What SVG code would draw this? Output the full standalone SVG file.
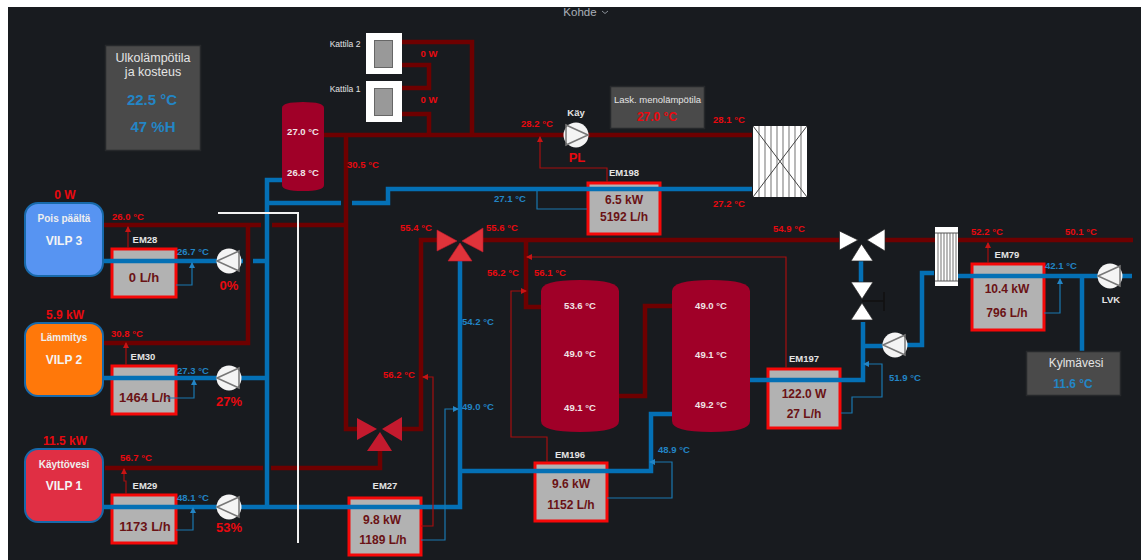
<svg xmlns="http://www.w3.org/2000/svg" width="1141" height="560" viewBox="0 0 1141 560">
<style>
text{font-family:"Liberation Sans",Arial,sans-serif}
.t{font-size:9.5px;font-weight:700}
.r{fill:#e8090f}
.b{fill:#2385c5}
.w{fill:#e4e4e4}
.m{text-anchor:middle}
.em{fill:#b2b2b2;stroke:#f50808;stroke-width:3}
.emt{font-size:12px;font-weight:700;fill:#6a1215;text-anchor:middle}
.big{font-size:13px;font-weight:700;fill:#e8090f;text-anchor:middle}
.pr{fill:none;stroke:#6e0000;stroke-width:4.5}
.pb{fill:none;stroke:#0470b5;stroke-width:4.5}
.sr{fill:none;stroke:#a50f0f;stroke-width:1.2}
.sb{fill:none;stroke:#1a78b0;stroke-width:1.2}
.panel{fill:#4a4a4a;stroke:#26282b;stroke-width:1.5}
.pump{fill:#f4f4f4}
.pt{fill:none;stroke:#777;stroke-width:1.5}
.tank{fill:#a00028}
.vilp{stroke:#1769aa;stroke-width:2}
.vt{font-size:10px;font-weight:700;fill:#eee;text-anchor:middle}
.vn{font-size:12px;font-weight:700;fill:#f4f4f4;text-anchor:middle}
.tt{font-size:9.5px;font-weight:700;fill:#f0e4e6;text-anchor:middle}
.vw{fill:#fff;stroke:#222;stroke-width:.7}
.st{stroke:#8a8a8a;stroke-width:1.2}
</style>
<defs>
<marker id="ar" viewBox="0 0 6 6" refX="5" refY="3" markerWidth="6" markerHeight="6" orient="auto" markerUnits="userSpaceOnUse"><path d="M0,0L6,3L0,6Z" fill="#c81414"/></marker>
<marker id="ab" viewBox="0 0 6 6" refX="5" refY="3" markerWidth="6" markerHeight="6" orient="auto" markerUnits="userSpaceOnUse"><path d="M0,0L6,3L0,6Z" fill="#2385c5"/></marker>
<g id="pumpL"><circle r="12.5" class="pump"/><path d="M-12,0L10,-10V10Z" class="pt"/></g>
<g id="pumpR"><circle r="12.5" class="pump"/><path d="M12,0L-10,-10V10Z" class="pt"/></g>
</defs>
<rect width="1141" height="560" fill="#fff"/>
<rect x="8" y="7" width="1133" height="553" fill="#181b1f"/>
<text x="580" y="16" font-size="11.500" fill="#aab0b8" class="m">Kohde</text>
<path d="M602,11l3,2.500l3,-2.500" fill="none" stroke="#8a9098" stroke-width="1"/>

<g id="em28"><rect x="112" y="249" width="64" height="48" class="em"/><text x="144" y="282" class="emt" style="font-size:13px">0 L/h</text></g>
<g id="em30"><rect x="112" y="366" width="64" height="48" class="em"/><text x="145" y="402" class="emt" style="font-size:13px">1464 L/h</text></g>
<g id="em29"><rect x="112" y="495" width="64" height="48" class="em"/><text x="145" y="531" class="emt" style="font-size:13px">1173 L/h</text></g>
<g id="em27"><rect x="349" y="498" width="72" height="57" class="em"/><text x="382" y="524" class="emt">9.8 kW</text><text x="383" y="544" class="emt">1189 L/h</text></g>
<g id="em196"><rect x="535" y="463" width="72" height="58" class="em"/><text x="571" y="488" class="emt">9.6 kW</text><text x="571" y="509" class="emt">1152 L/h</text></g>
<g id="em197"><rect x="768" y="369" width="72" height="59" class="em"/><text x="804" y="398" class="emt">122.0 W</text><text x="804" y="418" class="emt">27 L/h</text></g>
<g id="em79"><rect x="972" y="264" width="72" height="66" class="em"/><text x="1007" y="293" class="emt">10.4 kW</text><text x="1007" y="317" class="emt">796 L/h</text></g>
<g id="em198"><rect x="588" y="183" width="72" height="51" class="em"/><text x="624" y="204" class="emt">6.5 kW</text><text x="624" y="221" class="emt">5192 L/h</text></g>

<g id="connectors">
<path class="pr" d="M402,42H472V135M402,65H429V88H402M402,114H429V135M324,135H752"/>
<path class="pr" d="M346,135V429H358M104,225H261M272,225H346M248,225V343H104M105,468H263M271,468H380V450M402,429H421V240H438M482,240H839M526,240V307H541M619,396H645V306H672M885,240H935M958,240H1133"/>
<path class="pb" d="M282,180H267V507M267,203H341M352,203H388V189H752M103,261H243M253,261H267M103,378H267M103,507H460V261M460,471H651V414H672M750,380H863V322M861,261V282M863,346H884M907,345H922V273H934M957,276H1098M1122,276H1132M1082,276V352"/>
<path d="M218,213H298V543" fill="none" stroke="#f2f2f2" stroke-width="2"/>
<path class="sr" marker-end="url(#ar)" d="M128,248V227"/>
<path class="sr" marker-end="url(#ar)" d="M126,365V343"/>
<path class="sr" marker-end="url(#ar)" d="M126,494V481H124V469"/>
<path class="sb" marker-end="url(#ab)" d="M176,285H192V263"/>
<path class="sb" marker-end="url(#ab)" d="M167,398H194V380"/>
<path class="sb" marker-end="url(#ab)" d="M176,530H193V508"/>
<path class="sr" marker-end="url(#ar)" d="M421,526H433V377H423"/>
<path class="sb" marker-end="url(#ab)" d="M421,540H445V409H458"/>
<path class="sr" marker-end="url(#ar)" d="M547,462V437H511V291H526"/>
<path class="sb" marker-end="url(#ab)" d="M607,498H672V462H650"/>
<path class="sr" marker-end="url(#ar)" d="M786,368V257H527"/>
<path class="sb" marker-end="url(#ab)" d="M841,413H852V397H882V364H864"/>
<path class="sr" marker-end="url(#ar)" d="M988,263V243"/>
<path class="sb" marker-end="url(#ab)" d="M1044,313H1060V279"/>
<path class="sr" marker-end="url(#ar)" d="M607,182V168H540V137"/>
<path class="sb" d="M587,209H537V191"/>
</g>

<g id="ulko"><rect x="105.500" y="45.500" width="95" height="105" class="panel"/>
<text x="153" y="62" font-size="12.500" fill="#e4e4e4" class="m">Ulkolämpötila</text><text x="153" y="76" font-size="12.500" fill="#e4e4e4" class="m">ja kosteus</text>
<text x="152" y="105" font-size="15" font-weight="700" class="b m">22.5 °C</text><text x="153" y="132" font-size="15" font-weight="700" class="b m">47 %H</text></g>

<g id="kattila2"><rect x="366" y="33" width="36" height="41" fill="#fff"/><rect x="374.500" y="40.500" width="18" height="27" fill="#999" stroke="#666" stroke-width="1"/><text x="345" y="47" font-size="8.500" class="w m">Kattila 2</text></g>
<g id="kattila1"><rect x="366" y="81" width="36" height="41" fill="#fff"/><rect x="374.500" y="88.500" width="18" height="27" fill="#999" stroke="#666" stroke-width="1"/><text x="345" y="92" font-size="8.500" class="w m">Kattila 1</text></g>

<g id="tank-small"><path class="tank" d="M282,108Q282,102 303,102Q324,102 324,108V185Q324,191 303,191Q282,191 282,185Z"/><text x="303" y="135" class="tt">27.0 °C</text><text x="303" y="176" class="tt">26.8 °C</text></g>
<g id="tank-a"><path class="tank" d="M541,291Q541,280 580,280Q619,280 619,291V421Q619,432 580,432Q541,432 541,421Z"/><text x="580" y="309" class="tt">53.6 °C</text><text x="580" y="357" class="tt">49.0 °C</text><text x="580" y="411" class="tt">49.1 °C</text></g>
<g id="tank-b"><path class="tank" d="M672,291Q672,280 711,280Q750,280 750,291V421Q750,432 711,432Q672,432 672,421Z"/><text x="711" y="309" class="tt">49.0 °C</text><text x="711" y="358" class="tt">49.1 °C</text><text x="711" y="408" class="tt">49.2 °C</text></g>

<g id="vilp3"><rect x="25" y="203" width="78" height="73" rx="13" fill="#5794f2" class="vilp"/><text x="64" y="222" class="vt">Pois päältä</text><text x="64" y="245" class="vn">VILP 3</text><text x="65" y="199" class="m r" font-size="12" font-weight="700">0 W</text></g>
<g id="vilp2"><rect x="25" y="323" width="78" height="73" rx="13" fill="#ff780a" class="vilp"/><text x="64" y="341" class="vt">Lämmitys</text><text x="64" y="364" class="vn">VILP 2</text><text x="65" y="319" class="m r" font-size="12" font-weight="700">5.9 kW</text></g>
<g id="vilp1"><rect x="25" y="449" width="78" height="73" rx="13" fill="#e02f44" class="vilp"/><text x="64" y="468" class="vt">Käyttövesi</text><text x="64" y="490" class="vn">VILP 1</text><text x="65" y="445" class="m r" font-size="12" font-weight="700">11.5 kW</text></g>

<g id="pump-vilp3"><use href="#pumpL" x="229" y="261"/><text x="229" y="290" class="big">0%</text></g>
<g id="pump-vilp2"><use href="#pumpL" x="229" y="378"/><text x="229" y="406" class="big">27%</text></g>
<g id="pump-vilp1"><use href="#pumpL" x="229" y="507"/><text x="229" y="532" class="big">53%</text></g>
<g id="pump-pl"><use href="#pumpR" x="576" y="135"/><text x="576" y="116" class="t w m">Käy</text><text x="577" y="162" class="big">PL</text></g>
<g id="pump-mid"><use href="#pumpL" x="895" y="345"/></g>
<g id="pump-lvk"><use href="#pumpL" x="1110" y="276"/><text x="1111" y="303" class="t w m">LVK</text></g>

<g id="valve-red"><g fill="#e0333a" stroke="#c41a2e" stroke-width=".6"><path d="M437,230V251L457,241Z"/><path d="M483,228V252L462,241Z"/><path d="M460,243L448,261H472Z"/></g></g>
<g id="valve-mix"><g fill="#c41a2e"><path d="M357,418V440L377,429Z"/><path d="M402,417V441L382,429Z"/><path d="M380,432L367,451H392Z"/></g></g>
<g id="valve-white"><path class="vw" d="M839.500,231V250L858,240Z"/><path class="vw" d="M885,229V251L867,240Z"/><path class="vw" d="M861.500,244L851,261H873Z"/></g>
<g id="valve-hand"><path d="M862,301H884M884,292V311" fill="none" stroke="#111" stroke-width="1.500"/><path class="vw" d="M851,282H873L862,299Z"/><path class="vw" d="M862,303L851,320H873Z"/></g>

<g id="radiator"><rect x="753" y="126" width="54" height="71" fill="#fff"/>
<path class="st" d="M759,126V197M765,126V197M771,126V197M777,126V197M783,126V197M789,126V197M795,126V197M801,126V197"/>
<path d="M753,126L807,197M807,126L753,197" stroke="#444" stroke-width="1"/></g>
<g id="exchanger"><rect x="935" y="227" width="23" height="59" fill="#fff"/>
<path class="st" d="M938,233V281M941,233V281M944,233V281M947,233V281M950,233V281M953,233V281M956,233V281"/>
<path d="M935,233H958M935,281H958" stroke="#555" stroke-width="1"/></g>

<g id="lask"><rect x="610.500" y="86.500" width="94" height="42" class="panel"/><text x="657.500" y="103" font-size="9.500" class="w m">Lask. menolämpötila</text><text x="657" y="121" font-size="12" font-weight="700" class="r m">27.0 °C</text></g>
<g id="kylma"><rect x="1026.500" y="351.500" width="94" height="44" class="panel"/><text x="1076" y="367" font-size="12" class="w m">Kylmävesi</text><text x="1073" y="388" font-size="12" font-weight="700" class="b m">11.6 °C</text></g>

<g id="labels">
<text x="112" y="220" class="t r">26.0 °C</text><text x="177" y="255" class="t b">26.7 °C</text>
<text x="111" y="337" class="t r">30.8 °C</text><text x="177" y="374" class="t b">27.3 °C</text>
<text x="120" y="461" class="t r">56.7 °C</text><text x="177" y="501" class="t b">48.1 °C</text>
<text x="145" y="243" class="t w m">EM28</text><text x="143" y="360" class="t w m">EM30</text><text x="145" y="489" class="t w m">EM29</text><text x="385" y="489" class="t w m">EM27</text><text x="570" y="458" class="t w m">EM196</text><text x="804" y="362" class="t w m">EM197</text><text x="1007" y="258" class="t w m">EM79</text><text x="624" y="176" class="t w m">EM198</text>
<text x="347" y="168" class="t r">30.5 °C</text>
<text x="429" y="57" class="t r m">0 W</text><text x="429" y="103" class="t r m">0 W</text>
<text x="521" y="127" class="t r">28.2 °C</text><text x="713" y="123" class="t r">28.1 °C</text><text x="713" y="207" class="t r">27.2 °C</text><text x="494" y="202" class="t b">27.1 °C</text>
<text x="400" y="231" class="t r">55.4 °C</text><text x="486" y="231" class="t r">55.6 °C</text><text x="487" y="276" class="t r">56.2 °C</text><text x="534" y="276" class="t r">56.1 °C</text>
<text x="773" y="232" class="t r">54.9 °C</text><text x="971" y="235" class="t r">52.2 °C</text><text x="1065" y="235" class="t r">50.1 °C</text>
<text x="1045" y="269" class="t b">42.1 °C</text><text x="889" y="381" class="t b">51.9 °C</text>
<text x="462" y="325" class="t b">54.2 °C</text><text x="462" y="410" class="t b">49.0 °C</text><text x="383" y="378" class="t r">56.2 °C</text><text x="658" y="453" class="t b">48.9 °C</text>
</g>
</svg>
